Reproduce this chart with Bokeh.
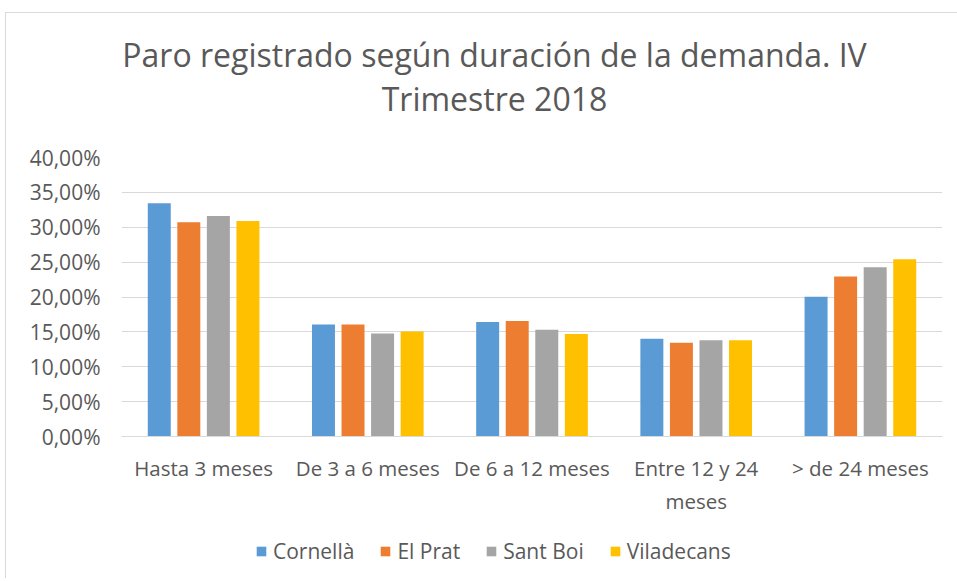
from bokeh.plotting import figure
from bokeh.layouts import column
from bokeh.models import ColumnDataSource, FixedTicker, Legend, LegendItem, Label
from bokeh.transform import dodge
from bokeh.embed import file_html
from bokeh.resources import INLINE

categories = ["Hasta 3 meses", "De 3 a 6 meses", "De 6 a 12 meses", "Entre 12 y 24\nmeses", "> de 24 meses"]
series_names = ["Cornellà", "El Prat", "Sant Boi", "Viladecans"]
cornella = [33.45, 16.05, 16.4, 14.0, 20.05]
el_prat = [30.7, 16.05, 16.55, 13.45, 22.95]
sant_boi = [31.6, 14.75, 15.3, 13.8, 24.25]
viladecans = [30.9, 15.05, 14.7, 13.8, 25.4]
y_ticks = [0, 5, 10, 15, 20, 25, 30, 35, 40]
y_tick_labels = ["0,00%", "5,00%", "10,00%", "15,00%", "20,00%", "25,00%", "30,00%", "35,00%", "40,00%"]
title_lines = ["Paro registrado según duración de la demanda. IV", "Trimestre 2018"]

colors = ["#5B9BD5", "#ED7D31", "#A5A5A5", "#FFC000"]
FONT = "Open Sans"
TXT = "#595959"
W = 951
ML, MR = 115, 15


def blank(fig):
    fig.xgrid.grid_line_color = None
    fig.ygrid.grid_line_color = None
    fig.outline_line_color = None
    return fig


# --- title area (frame is aligned with the chart frame by the column layout) ---
tf = blank(figure(width=W, height=130, output_backend="svg", toolbar_location=None,
                  x_axis_location=None, y_axis_location=None, x_range=(0, 1), y_range=(0, 1),
                  min_border_left=ML, min_border_right=MR, min_border_top=0, min_border_bottom=0))
for txt, yy in zip(title_lines, [89, 45]):
    tf.add_layout(Label(x=373, y=yy, x_units="screen", y_units="screen", text=txt,
                        text_align="center", text_baseline="middle", text_font=FONT,
                        text_font_size="32px", text_color=TXT))

# --- main chart ---
src = ColumnDataSource(dict(cat=categories, c=cornella, e=el_prat, s=sant_boi, v=viladecans))

p_main = figure(x_range=categories, y_range=(0, 40), width=W, height=377,
                output_backend="svg", toolbar_location=None, title=None,
                min_border_left=ML, min_border_right=MR, min_border_top=14, min_border_bottom=84)
p_main.x_range.range_padding = 0

offsets = [-0.27, -0.09, 0.09, 0.27]
cols = ["c", "e", "s", "v"]
for col, off, color in zip(cols, offsets, colors):
    p_main.vbar(x=dodge("cat", off, range=p_main.x_range), top=col, width=0.14, source=src,
                fill_color=color, line_color=None)

p_main.yaxis.ticker = FixedTicker(ticks=y_ticks)
p_main.yaxis.major_label_overrides = {t: l for t, l in zip(y_ticks, y_tick_labels)}
p_main.yaxis.axis_line_color = None
p_main.yaxis.major_tick_line_color = None
p_main.yaxis.minor_tick_line_color = None
p_main.yaxis.major_label_standoff = 15
p_main.yaxis.major_label_text_font = FONT
p_main.yaxis.major_label_text_font_size = "21px"
p_main.yaxis.major_label_text_color = TXT

p_main.xaxis.axis_line_color = "#D9D9D9"
p_main.xaxis.major_tick_line_color = None
p_main.xaxis.minor_tick_line_color = None
p_main.xaxis.major_label_standoff = 11
p_main.xaxis.major_label_text_font = FONT
p_main.xaxis.major_label_text_font_size = "20.5px"
p_main.xaxis.major_label_text_color = TXT

p_main.xgrid.grid_line_color = None
p_main.ygrid.grid_line_color = "#D9D9D9"
p_main.outline_line_color = None

# --- legend area ---
lf = blank(figure(width=W, height=58, output_backend="svg", toolbar_location=None,
                  x_axis_location=None, y_axis_location=None, x_range=categories,
                  y_range=(100, 101), min_border_left=ML, min_border_right=MR,
                  min_border_top=0, min_border_bottom=0))
items = []
for name, col, color in zip(series_names, cols, colors):
    r = lf.vbar(x="cat", top=col, width=0.14, source=src, fill_color=color, line_color=None)
    items.append(LegendItem(label=name, renderers=[r]))
legend = Legend(items=items, orientation="horizontal", location=(134, 13),
                label_text_font=FONT, label_text_font_size="21px", label_text_color=TXT,
                glyph_width=12, glyph_height=12, spacing=25, label_standoff=6,
                border_line_color=None, background_fill_alpha=0, margin=0, padding=0)
lf.add_layout(legend, "center")

p = column(tf, p_main, lf, spacing=0)
p.styles = {"border-left": "1px solid #D9D9D9", "border-top": "1px solid #D9D9D9",
            "margin-left": "5px", "margin-top": "12px"}

open("out.html", "w").write(file_html(p, INLINE))
